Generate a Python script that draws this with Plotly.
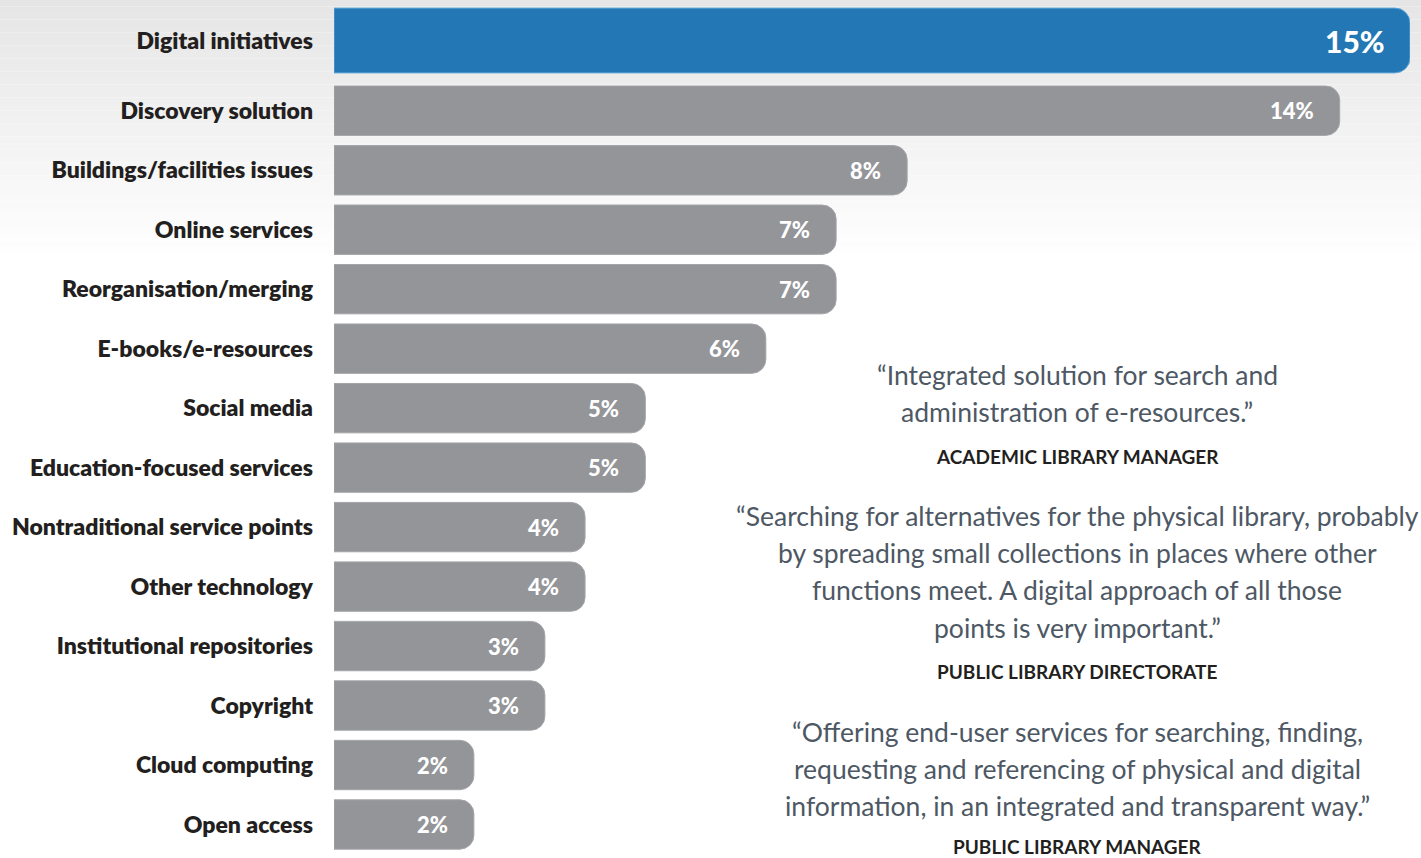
import plotly.graph_objects as go

categories = [
    "Digital initiatives", "Discovery solution", "Buildings/facilities issues",
    "Online services", "Reorganisation/merging", "E-books/e-resources",
    "Social media", "Education-focused services", "Nontraditional service points",
    "Other technology", "Institutional repositories", "Copyright",
    "Cloud computing", "Open access",
]
# bar lengths as drawn in the picture (in percent units)
bar_lengths = [15.0, 14.02, 7.99, 7.0, 7.0, 6.02, 4.34, 4.34, 3.5, 3.5, 2.94, 2.94, 1.95, 1.95]
pct_labels = ["15%", "14%", "8%", "7%", "7%", "6%", "5%", "5%", "4%", "4%", "3%", "3%", "2%", "2%"]

quotes = [
    (["\u201cIntegrated solution for search and", "administration of e-resources.\u201d"],
     "ACADEMIC LIBRARY MANAGER"),
    (["\u201cSearching for alternatives for the physical library, probably",
      "by spreading small collections in places where other",
      "functions meet. A digital approach of all those",
      "points is very important.\u201d"],
     "PUBLIC LIBRARY DIRECTORATE"),
    (["\u201cOffering end-user services for searching, finding,",
      "requesting and referencing of physical and digital",
      "information, in an integrated and transparent way.\u201d"],
     "PUBLIC LIBRARY MANAGER"),
]

W, H = 1421, 858
L, R = 334, 11
BLUE = "#2277b4"
GRAY = "#949599"
DARK = "#231f20"
QUOTE_COL = "#4d5864"
FONT = "Lato"

fig = go.Figure()

fig.add_trace(go.Bar(
    x=bar_lengths[:1], y=categories[:1], orientation="h", yaxis="y2",
    width=0.8,
    marker=dict(color=BLUE, cornerradius=15, line=dict(color="#5ea6da", width=1)),
    hoverinfo="skip",
))
fig.add_trace(go.Bar(
    x=bar_lengths[1:], y=categories[1:], orientation="h", yaxis="y",
    width=0.83,
    marker=dict(color=GRAY, cornerradius=14, line=dict(color="#a4a5a8", width=1)),
    hoverinfo="skip",
))

annotations = []
# percentage labels inside bars
for i, (v, t) in enumerate(zip(bar_lengths, pct_labels)):
    annotations.append(dict(
        x=v, y=categories[i], xref="x", yref="y2" if i == 0 else "y",
        text=t, showarrow=False, xanchor="right", yanchor="middle",
        xshift=-23 if i == 0 else -24,
        font=dict(family=FONT, size=30 if i == 0 else 22, color="white", weight=900),
    ))

def px_to_paper_x(px):
    return (px - L) / (W - L - R)

def px_to_paper_y(py):
    return 1 - py / H

qx = px_to_paper_x(1077)
quote_line_y = [[375, 412], [516, 553, 590, 628], [732, 769, 806]]
author_y = [456, 671, 846]
for (lines, author), ly, ay in zip(quotes, quote_line_y, author_y):
    for line, y in zip(lines, ly):
        annotations.append(dict(
            x=qx, y=px_to_paper_y(y), xref="paper", yref="paper", text=line,
            showarrow=False, xanchor="center", yanchor="middle",
            font=dict(family=FONT, size=26.5, color=QUOTE_COL, weight=400),
        ))
    annotations.append(dict(
        x=qx, y=px_to_paper_y(ay), xref="paper", yref="paper", text=author,
        showarrow=False, xanchor="center", yanchor="middle",
        font=dict(family=FONT, size=19, color=DARK, weight="bold"),
    ))

# background gradient (light gray at top fading to white)
shapes = []
N = 40
grad_h = 260
for k in range(N):
    y0 = grad_h * k / N
    y1 = grad_h * (k + 1) / N
    t = (k + 0.5) / N
    g = round(229 + (255 - 229) * t)
    shapes.append(dict(
        type="rect", xref="paper", yref="paper", layer="below",
        x0=-0.5, x1=1.5, y0=px_to_paper_y(y1), y1=px_to_paper_y(y0),
        fillcolor=f"rgb({g},{g},{g})", line=dict(width=0),
    ))

tickfont = dict(family=FONT, size=23, color=DARK, weight=800)
fig.update_layout(
    width=W, height=H,
    margin=dict(l=L, r=R, t=0, b=0),
    paper_bgcolor="white", plot_bgcolor="rgba(0,0,0,0)",
    showlegend=False,
    barmode="overlay",
    xaxis=dict(range=[0, 15], visible=False, fixedrange=True),
    yaxis=dict(
        domain=[px_to_paper_y(854.25), px_to_paper_y(81)],
        categoryorder="array", categoryarray=categories[1:],
        autorange="reversed", showgrid=False, zeroline=False, showline=False,
        ticks="", tickfont=tickfont, ticklabelstandoff=20, anchor="x",
    ),
    yaxis2=dict(
        domain=[px_to_paper_y(81), 1.0],
        categoryorder="array", categoryarray=categories[:1],
        showgrid=False, zeroline=False, showline=False,
        ticks="", tickfont=tickfont, ticklabelstandoff=20, anchor="x",
    ),
    annotations=annotations,
    shapes=shapes,
)

fig.write_html("out.html", config={"displayModeBar": False})
